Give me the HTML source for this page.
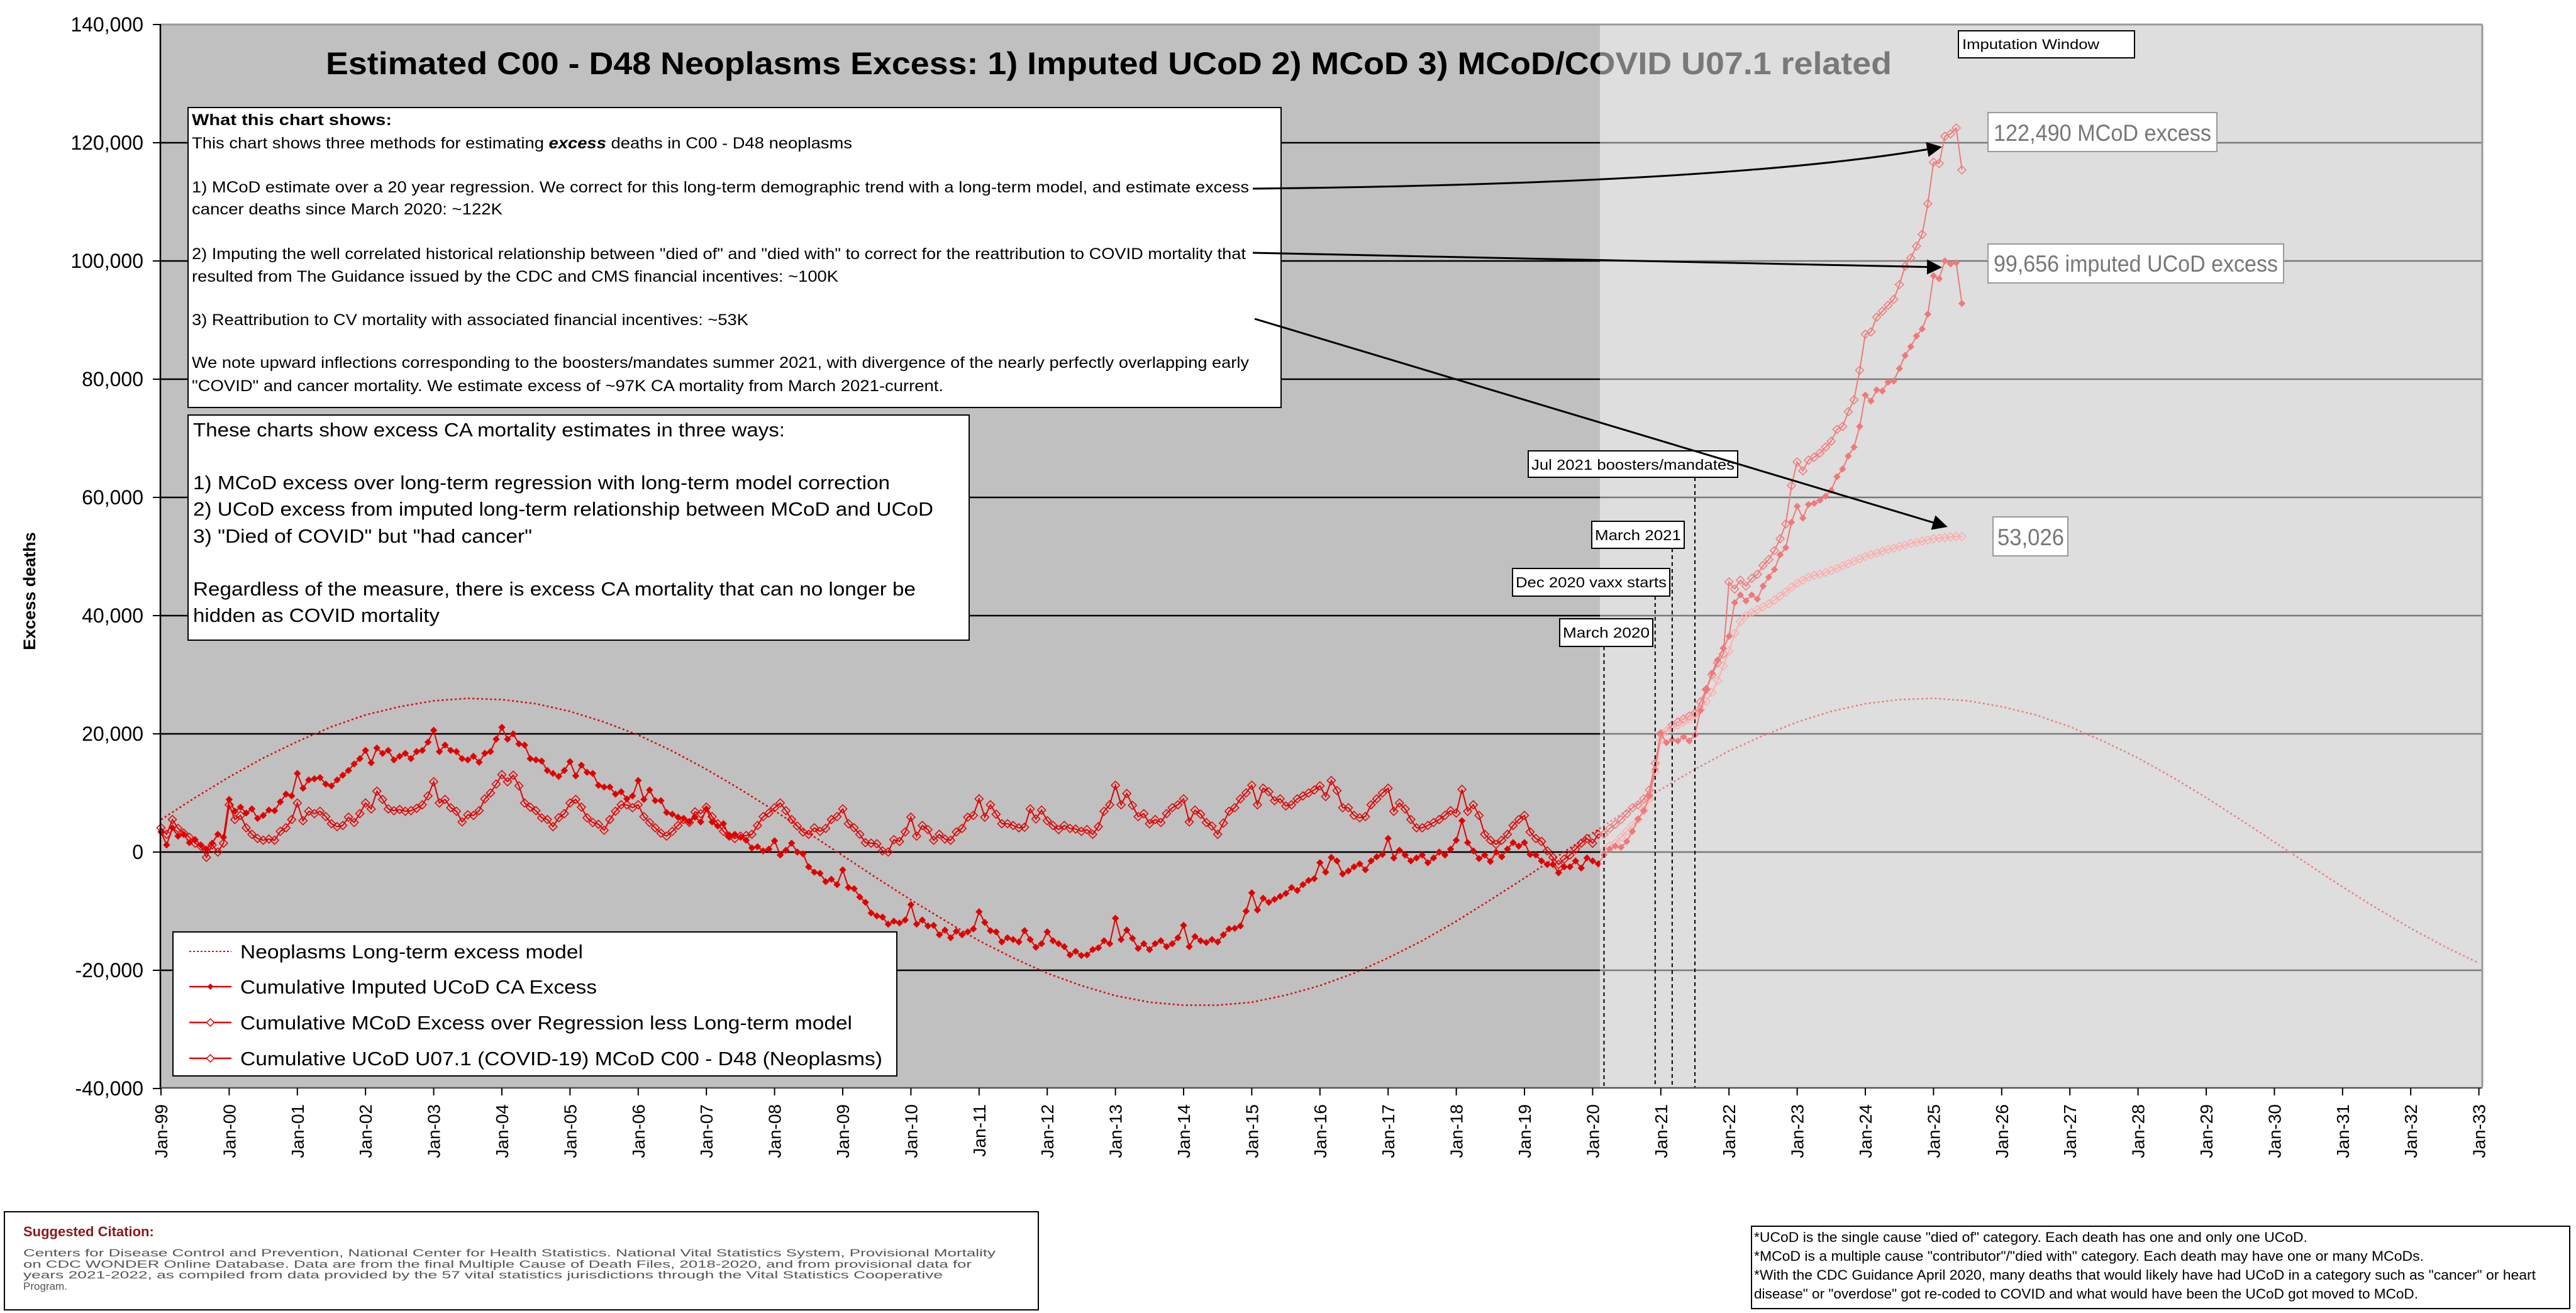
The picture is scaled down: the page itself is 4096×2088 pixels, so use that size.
<!DOCTYPE html>
<html>
<head>
<meta charset="utf-8">
<style>
html,body{margin:0;padding:0;background:#fff;}
svg{display:block;}
text{font-family:"Liberation Sans",Arial,sans-serif;}
</style>
</head>
<body>
<svg id="chart" width="4096" height="2088" viewBox="0 0 4096 2088" xmlns="http://www.w3.org/2000/svg">
  <rect x="0" y="0" width="4096" height="2088" fill="#ffffff"/>
  <rect x="256" y="39" width="3691" height="1690" fill="#c0c0c0"/>
  <g id="grid"></g>
  <g id="marks"></g>
  <text x="1763" y="118" text-anchor="middle" font-size="50" font-weight="bold" textLength="2490" lengthAdjust="spacingAndGlyphs" fill="#000">Estimated C00 - D48 Neoplasms Excess: 1) Imputed UCoD 2) MCoD 3) MCoD/COVID U07.1 related</text>
  <rect x="2544" y="39" width="1403" height="1690" fill="#ffffff" fill-opacity="0.476"/>
  <line x1="256" y1="39" x2="3947" y2="39" stroke="#999" stroke-width="3"/>
  <line x1="3947" y1="39" x2="3947" y2="1729" stroke="#999" stroke-width="3"/>
  <g id="axes"></g>
  <g id="events"></g>

  <!-- annotation boxes -->
  <g>
    <rect x="299" y="171" width="1738" height="477" fill="#fff" stroke="#000" stroke-width="2"/>
    <text x="305" y="199" font-size="25" font-weight="bold" textLength="318" lengthAdjust="spacingAndGlyphs">What this chart shows:</text>
    <text x="305" y="236" font-size="25" textLength="1050" lengthAdjust="spacingAndGlyphs">This chart shows three methods for estimating <tspan font-weight="bold" font-style="italic">excess</tspan>  deaths in C00 - D48 neoplasms</text>
    <text x="305" y="306" font-size="25" textLength="1681" lengthAdjust="spacingAndGlyphs">1) MCoD estimate over a 20 year regression. We correct for this long-term demographic trend with a long-term model, and estimate excess</text>
    <text x="305" y="341" font-size="25" textLength="494" lengthAdjust="spacingAndGlyphs">cancer deaths since March 2020: ~122K</text>
    <text x="305" y="412" font-size="25" textLength="1676" lengthAdjust="spacingAndGlyphs">2) Imputing the well correlated historical relationship between "died of" and "died with" to correct for the reattribution to COVID mortality that</text>
    <text x="305" y="448" font-size="25" textLength="1028" lengthAdjust="spacingAndGlyphs">resulted from The Guidance issued by the CDC and CMS financial incentives: ~100K</text>
    <text x="305" y="517" font-size="25" textLength="885" lengthAdjust="spacingAndGlyphs">3) Reattribution to CV mortality with associated financial incentives: ~53K</text>
    <text x="305" y="585" font-size="25" textLength="1681" lengthAdjust="spacingAndGlyphs">We note upward inflections corresponding to the boosters/mandates summer 2021, with divergence of the nearly perfectly overlapping early</text>
    <text x="305" y="622" font-size="25" textLength="1195" lengthAdjust="spacingAndGlyphs">"COVID" and cancer mortality. We estimate excess of ~97K CA mortality from March 2021-current.</text>
  </g>
  <g>
    <rect x="299" y="660" width="1242" height="358" fill="#fff" stroke="#000" stroke-width="2"/>
    <text x="307" y="694" font-size="31" textLength="941" lengthAdjust="spacingAndGlyphs">These charts show excess CA mortality estimates in three ways:</text>
    <text x="307" y="778" font-size="31" textLength="1108" lengthAdjust="spacingAndGlyphs">1) MCoD excess over long-term regression with long-term model correction</text>
    <text x="307" y="820" font-size="31" textLength="1177" lengthAdjust="spacingAndGlyphs">2) UCoD excess from imputed long-term relationship between MCoD and UCoD</text>
    <text x="307" y="863" font-size="31" textLength="539" lengthAdjust="spacingAndGlyphs">3) "Died of COVID" but "had cancer"</text>
    <text x="307" y="947" font-size="31" textLength="1149" lengthAdjust="spacingAndGlyphs">Regardless of the measure, there is excess CA mortality that can no longer be</text>
    <text x="307" y="989" font-size="31" textLength="392" lengthAdjust="spacingAndGlyphs">hidden as COVID mortality</text>
  </g>

  <!-- arrows -->
  <defs>
    <marker id="arrowhead" markerWidth="8" markerHeight="8" refX="7" refY="4" orient="auto" markerUnits="strokeWidth">
      <path d="M0,0 L8,4 L0,8 z" fill="#000"/>
    </marker>
  </defs>
  <path d="M1992 300 Q2760 292 3085 234" fill="none" stroke="#000" stroke-width="3" marker-end="url(#arrowhead)"/>
  <path d="M1992 402 L3085 425" fill="none" stroke="#000" stroke-width="3" marker-end="url(#arrowhead)"/>
  <path d="M1995 507 L3094 837" fill="none" stroke="#000" stroke-width="3" marker-end="url(#arrowhead)"/>

  <g>
    <rect x="3161" y="179" width="364" height="62" fill="#fff" stroke="#999" stroke-width="2"/>
    <text x="3170" y="224" font-size="37" fill="#777" textLength="346" lengthAdjust="spacingAndGlyphs">122,490 MCoD excess</text>
  </g>
  <g>
    <rect x="3161" y="388" width="470" height="62" fill="#fff" stroke="#999" stroke-width="2"/>
    <text x="3170" y="432" font-size="37" fill="#777" textLength="452" lengthAdjust="spacingAndGlyphs">99,656 imputed UCoD excess</text>
  </g>
  <g>
    <rect x="3169" y="822" width="119" height="62" fill="#fff" stroke="#999" stroke-width="2"/>
    <text x="3176" y="867" font-size="37" fill="#777" textLength="106" lengthAdjust="spacingAndGlyphs">53,026</text>
  </g>
  <g>
    <rect x="3114" y="49" width="280" height="43" fill="#fff" stroke="#000" stroke-width="2"/>
    <text x="3120" y="78" font-size="22" textLength="218" lengthAdjust="spacingAndGlyphs">Imputation Window</text>
  </g>

  <!-- legend -->
  <g>
    <rect x="275" y="1482" width="1151" height="229" fill="#fff" stroke="#000" stroke-width="2"/>
    <g>
      <line x1="301" y1="1513" x2="368" y2="1513" stroke="#e00000" stroke-width="2" stroke-dasharray="3,3"/>
      <text x="382" y="1524" font-size="31" textLength="545" lengthAdjust="spacingAndGlyphs">Neoplasms Long-term excess model</text>
    </g>
    <g>
      <line x1="301" y1="1569" x2="368" y2="1569" stroke="#e00000" stroke-width="2.5"/>
      <path d="M334.5 1564 L339.5 1569 L334.5 1574 L329.5 1569 Z" fill="#e00000"/>
      <text x="382" y="1580" font-size="31" textLength="567" lengthAdjust="spacingAndGlyphs">Cumulative Imputed UCoD CA Excess</text>
    </g>
    <g>
      <line x1="301" y1="1626" x2="368" y2="1626" stroke="#e00000" stroke-width="2.5"/>
      <path d="M334.5 1620 L340.5 1626 L334.5 1632 L328.5 1626 Z" fill="#fff" stroke="#e00000" stroke-width="1.5"/>
      <text x="382" y="1637" font-size="31" textLength="973" lengthAdjust="spacingAndGlyphs">Cumulative MCoD Excess over Regression less Long-term model</text>
    </g>
    <g>
      <line x1="301" y1="1683" x2="368" y2="1683" stroke="#e00000" stroke-width="2.5"/>
      <path d="M334.5 1677 L340.5 1683 L334.5 1689 L328.5 1683 Z" fill="#fff" stroke="#e00000" stroke-width="1.5"/>
      <text x="382" y="1694" font-size="31" textLength="1021" lengthAdjust="spacingAndGlyphs">Cumulative UCoD U07.1 (COVID-19)  MCoD C00 - D48 (Neoplasms)</text>
    </g>
  </g>

  <text transform="translate(56,940) rotate(-90)" text-anchor="middle" font-size="27" font-weight="bold" font-family="DejaVu Sans, sans-serif">Excess deaths</text>

  <!-- citation -->
  <g>
    <rect x="7" y="1927" width="1644" height="156" fill="#fff" stroke="#000" stroke-width="2"/>
    <text x="37" y="1966" font-size="22" font-weight="bold" fill="#8b1a1a" font-family="DejaVu Sans, sans-serif">Suggested Citation:</text>
    <text x="37" y="1998" font-size="17" fill="#555" font-family="DejaVu Sans, sans-serif" textLength="1546" lengthAdjust="spacingAndGlyphs">Centers for Disease Control and Prevention, National Center for Health Statistics. National Vital Statistics System, Provisional Mortality</text>
    <text x="37" y="2016" font-size="17" fill="#555" font-family="DejaVu Sans, sans-serif" textLength="1508" lengthAdjust="spacingAndGlyphs">on CDC WONDER Online Database. Data are from the final Multiple Cause of Death Files, 2018-2020, and from provisional data for</text>
    <text x="37" y="2033" font-size="17" fill="#555" font-family="DejaVu Sans, sans-serif" textLength="1462" lengthAdjust="spacingAndGlyphs">years 2021-2022, as compiled from data provided by the 57 vital statistics jurisdictions through the Vital Statistics Cooperative</text>
    <text x="37" y="2051" font-size="17" fill="#555" font-family="DejaVu Sans, sans-serif">Program.</text>
  </g>
  <!-- footnotes -->
  <g>
    <rect x="2785" y="1950" width="1301" height="131" fill="#fff" stroke="#000" stroke-width="2"/>
    <text x="2789" y="1975" font-size="22" textLength="880" lengthAdjust="spacingAndGlyphs">*UCoD is the single cause "died of" category. Each death has one and only one UCoD.</text>
    <text x="2789" y="2005" font-size="22" textLength="1065" lengthAdjust="spacingAndGlyphs">*MCoD is a multiple cause "contributor"/"died with" category. Each death may have one or many MCoDs.</text>
    <text x="2789" y="2035" font-size="22" textLength="1243" lengthAdjust="spacingAndGlyphs">*With the CDC Guidance April 2020, many deaths that would likely have had UCoD in a category such as "cancer" or heart</text>
    <text x="2789" y="2065" font-size="22" textLength="1056" lengthAdjust="spacingAndGlyphs">disease" or "overdose" got re-coded to COVID and what would have been the UCoD got moved to MCoD.</text>
  </g>
</svg>

<script>
// ---- data (thousands of deaths) ----
const yTickValues = [140, 120, 100, 80, 60, 40, 20, 0, -20, -40];
const yTickLabels = ["140,000","120,000","100,000","80,000","60,000","40,000","20,000","0","-20,000","-40,000"];
const xTickLabels = ["Jan-99","Jan-00","Jan-01","Jan-02","Jan-03","Jan-04","Jan-05","Jan-06","Jan-07","Jan-08","Jan-09","Jan-10","Jan-11","Jan-12","Jan-13","Jan-14","Jan-15","Jan-16","Jan-17","Jan-18","Jan-19","Jan-20","Jan-21","Jan-22","Jan-23","Jan-24","Jan-25","Jan-26","Jan-27","Jan-28","Jan-29","Jan-30","Jan-31","Jan-32","Jan-33"];
// monthly from Jan-1999
const imputedUcod = [
3.4,1.2,4.1,2.7,3.0,1.6,2.1,1.2,0.5,1.5,3.0,2.5,
8.9,6.9,7.6,6.6,7.3,5.7,6.2,7.1,7.0,8.5,9.8,9.5,
13.3,10.8,12.2,12.4,12.6,11.5,11.2,12.2,13.0,13.8,14.9,15.8,
17.2,15.1,17.6,16.7,17.2,15.6,16.2,16.7,15.8,17.0,17.2,18.6,
20.6,17.0,18.1,17.2,17.0,15.8,15.6,16.2,15.2,16.7,17.0,19.1,
21.1,19.1,20.0,18.3,18.1,15.8,15.6,15.4,13.8,13.3,12.8,13.8,
15.3,12.9,14.7,13.5,13.3,11.3,11.0,11.0,9.8,10.2,9.0,9.5,
12.1,8.9,10.5,8.7,8.7,6.7,6.4,5.9,5.7,5.1,5.9,5.1,
7.3,5.1,4.4,4.8,2.7,3.0,2.5,2.0,0.7,0.9,0.2,0.5,
1.9,-0.5,0.3,1.5,0.0,-0.3,-2.5,-3.4,-3.6,-5.0,-4.6,-5.5,
-3.0,-6.0,-6.2,-7.6,-8.5,-10.3,-10.8,-11.0,-12.2,-11.7,-12.0,-11.5,
-8.9,-12.2,-11.5,-12.5,-12.4,-14.0,-13.2,-14.5,-13.4,-14.0,-13.5,-13.0,
-10.1,-11.9,-13.3,-13.5,-15.2,-14.5,-14.8,-15.2,-13.3,-14.8,-16.1,-15.5,
-13.5,-15.0,-15.5,-16.0,-17.4,-16.8,-17.5,-17.4,-16.5,-16.2,-15.0,-15.5,
-11.2,-14.8,-13.2,-14.6,-16.3,-15.5,-16.5,-15.5,-15.0,-16.0,-15.5,-14.5,
-12.4,-16.0,-14.3,-15.0,-15.3,-14.8,-15.2,-14.0,-13.0,-12.9,-12.5,-10.0,
-6.9,-9.8,-7.8,-8.5,-8.0,-7.5,-7.0,-6.0,-6.5,-5.5,-4.8,-4.5,
-1.8,-3.4,-0.9,-1.5,-3.7,-3.2,-2.5,-2.0,-3.0,-1.5,-0.8,-0.4,
2.3,-1.0,0.3,-0.5,-1.5,-1.0,-0.5,-1.8,-1.0,0.0,-0.5,0.5,
2.0,5.3,1.6,0.2,-1.1,-0.5,-1.6,0.0,-0.8,0.5,1.6,1.0,
1.6,-0.4,-0.5,-1.5,-2.1,-2.1,-3.5,-2.5,-2.5,-1.5,-2.7,-1.0,
-1.5,-2.0,-0.5,0.5,1.0,0.8,1.8,3.5,5.6,7.0,9.5,14.0,
20.1,18.5,19.0,18.8,19.5,18.8,19.8,24.0,27.5,30.3,32.5,34.5,
36.5,42.2,43.5,42.5,43.5,42.8,45.0,46.5,47.8,50.3,51.5,55.8,
58.5,56.5,58.8,59.0,59.5,60.2,61.2,63.5,64.8,67.0,68.5,72.0,
77.3,76.3,78.2,78.0,79.5,79.7,81.8,84.0,85.5,87.3,88.5,91.0,
97.5,97.0,100.0,99.5,99.7,92.8];
const mcodExcess = [
4.1,3.0,5.5,4.0,3.2,2.5,1.5,1.0,-0.9,1.2,0.0,1.5,
8.0,5.5,6.2,4.1,3.0,2.3,2.0,2.2,2.0,3.5,4.1,5.5,
8.3,5.3,6.9,6.5,6.9,6.0,4.8,4.3,4.5,5.9,5.0,6.5,
8.3,7.3,10.3,8.9,7.3,7.0,7.2,6.9,7.0,7.4,8.0,9.5,
11.9,8.3,8.9,7.5,6.9,5.1,6.3,6.2,7.0,9.0,10.0,11.5,
13.1,11.9,13.0,11.2,8.3,7.6,7.0,5.8,5.5,4.3,5.8,6.5,
8.3,8.9,7.6,5.8,5.0,4.7,3.7,5.5,6.9,8.0,8.0,7.5,
8.0,6.0,5.0,4.1,3.2,2.7,3.5,4.5,5.5,5.0,6.8,6.5,
7.6,6.0,4.8,3.5,2.7,2.3,2.7,2.8,3.0,4.5,6.0,6.6,
7.5,8.3,7.0,5.5,4.4,3.4,3.0,4.1,3.5,4.0,5.5,6.0,
7.3,4.8,4.1,3.0,1.6,1.5,1.4,0.2,0.0,2.1,1.8,3.4,
5.9,2.7,4.5,3.8,2.0,3.0,2.2,2.0,3.4,4.0,5.9,6.2,
9.0,5.9,8.0,6.4,4.8,4.8,4.5,4.1,4.2,7.3,5.6,7.1,
5.3,4.5,3.8,4.5,4.0,3.9,3.5,3.8,3.0,4.3,6.9,8.0,
11.3,8.0,9.9,7.9,6.0,6.5,4.8,5.5,5.0,6.5,7.5,8.0,
9.0,5.1,7.1,6.4,5.0,4.4,3.0,4.9,6.9,7.5,9.0,10.0,
11.3,8.0,10.8,10.2,8.7,9.0,7.8,8.0,9.0,9.5,10.0,10.5,
11.2,9.4,12.1,10.4,7.5,7.5,6.2,5.8,6.0,8.0,9.0,10.0,
10.8,6.9,8.3,7.3,5.5,4.1,4.1,4.5,5.0,5.5,6.2,7.0,
6.6,10.6,6.9,8.0,6.2,3.0,2.0,1.3,2.0,3.0,4.5,5.5,
6.2,3.4,2.3,1.8,0.2,-0.9,-2.1,-1.2,-0.5,0.5,1.5,2.3,
1.5,3.0,3.0,4.0,4.7,5.5,6.5,7.5,8.0,9.0,10.5,15.0,
20.0,20.5,21.5,22.0,22.5,23.0,23.5,25.4,27.5,30.0,32.0,33.5,
45.7,44.5,46.0,45.0,46.3,47.0,48.5,49.5,51.0,53.0,55.5,62.0,
66.0,64.5,66.3,66.8,67.5,68.5,69.5,71.5,72.0,74.5,76.5,81.5,
87.6,88.0,90.5,91.5,92.5,93.5,96.0,99.1,100.5,102.5,104.5,109.7,
116.7,116.5,121.1,121.5,122.5,115.4];
// monthly from Mar-2020
const covidStartMonth = 254;
const covidU071 = [
0.3,1.0,1.5,2.5,3.5,4.5,5.5,7.0,9.0,13.5,
19.0,20.5,21.0,21.5,22.0,22.5,23.2,24.1,25.5,27.0,29.0,31.5,
34.0,37.0,39.0,40.0,40.5,41.0,41.5,42.0,42.6,43.3,44.0,44.8,
45.5,46.0,46.5,46.8,47.0,47.3,47.6,48.0,48.4,48.8,49.2,49.6,
50.0,50.3,50.6,50.9,51.2,51.4,51.7,51.9,52.2,52.4,52.6,52.8,
53.0,53.1,53.2,53.3,53.4,53.4];
// half-yearly from Jan-1999 to Jan-2033
const longTermModel = [5.5,9.2,12.7,15.9,18.7,21.2,23.2,24.6,25.6,26.0,25.8,25.1,23.8,22.0,19.8,17.1,14.0,10.6,7.0,3.2,-0.6,-4.4,-8.1,-11.6,-15.0,-17.9,-20.5,-22.6,-24.3,-25.4,-25.9,-25.9,-25.4,-24.2,-22.6,-20.5,-17.9,-15.0,-11.7,-8.1,-4.4,-0.6,3.2,7.0,10.6,14.0,17.1,19.7,22.0,23.8,25.1,25.8,26.0,25.6,24.6,23.2,21.2,18.7,15.9,12.7,9.2,5.5,1.7,-2.1,-5.9,-9.5,-12.9,-16.0,-18.8];
const eventLabels = ["March 2020","Dec 2020 vaxx starts","March 2021","Jul 2021 boosters/mandates"];
const eventMonths = [254, 263, 266, 270];

// ---- axis functions ----
const X0 = 256, PX_PER_YEAR = 108.4, Y0 = 1355, PX_PER_K = 9.4;
function xMonth(m){ return X0 + m / 12 * PX_PER_YEAR; }
function yVal(v){ return Y0 - v * PX_PER_K; }

const NS = "http://www.w3.org/2000/svg";
function mk(tag, attrs, parent){
  const e = document.createElementNS(NS, tag);
  for (const k in attrs) e.setAttribute(k, attrs[k]);
  parent.appendChild(e);
  return e;
}
const grid = document.getElementById('grid');
const marks = document.getElementById('marks');
const axes = document.getElementById('axes');
const events = document.getElementById('events');

// gridlines + y ticks
yTickValues.forEach((v, i) => {
  const y = yVal(v);
  if (v !== 140 && v !== -40) {
    const g = mk('line', {x1: 256, y1: y, x2: 3947, y2: y, stroke: '#000', 'stroke-width': 2.5}, grid);
    
    
  }
  const t = mk('line', {x1: 243, y1: y, x2: 256, y2: y, stroke: '#000', 'stroke-width': 2}, axes);
  
  
  const lbl = mk('text', {x: 228, y: y + 11, 'text-anchor': 'end', 'font-size': 32}, axes);
  lbl.textContent = yTickLabels[i];
  
  
});
// axis lines
const yAxis = mk('line', {x1: 255, y1: 39, x2: 255, y2: 1730, stroke: '#000', 'stroke-width': 2.5}, axes);


const xAxis = mk('line', {x1: 255, y1: 1730, x2: 3947, y2: 1730, stroke: '#555', 'stroke-width': 2.5}, axes);


// x ticks
xTickLabels.forEach((s, i) => {
  const x = xMonth(i * 12);
  const t = mk('line', {x1: x, y1: 1730, x2: x, y2: 1742, stroke: '#000', 'stroke-width': 2}, axes);
  
  
  const lbl = mk('text', {transform: `translate(${x + 10},1756) rotate(-90)`, 'text-anchor': 'end', 'font-size': 28, 'font-family': 'DejaVu Sans, sans-serif'}, axes);
  lbl.textContent = s;
  
  
});

// model dotted line
let d = '';
longTermModel.forEach((v, i) => { d += (i ? 'L' : 'M') + xMonth(i * 6).toFixed(1) + ' ' + yVal(v).toFixed(1); });
const modelPath = mk('path', {d: d, fill: 'none', stroke: '#e00000', 'stroke-width': 2.5, 'stroke-dasharray': '3,4'}, marks);



function drawSeries(values, startMonth, name, filled, color){
  let p = '';
  values.forEach((v, i) => { p += (i ? 'L' : 'M') + xMonth(startMonth + i).toFixed(1) + ' ' + yVal(v).toFixed(1); });
  const line = mk('path', {d: p, fill: 'none', stroke: color, 'stroke-width': 2}, marks);
  
  
  values.forEach((v, i) => {
    const x = xMonth(startMonth + i), y = yVal(v), r = filled ? 5 : 6.5;
    const pt = mk('path', {d: `M${x} ${y - r}L${x + r} ${y}L${x} ${y + r}L${x - r} ${y}Z`, fill: filled ? color : 'none', stroke: color, 'stroke-width': filled ? 1 : 1.5}, marks);
    
    
  });
}
drawSeries(mcodExcess, 0, 'mcod-excess', false, '#e00000');
drawSeries(covidU071, covidStartMonth, 'covid-u071', false, '#ff6060');
drawSeries(imputedUcod, 0, 'imputed-ucod', true, '#e00000');

// event dashed lines + labels
const evBoxes = [[2480,984,148,44],[2405,904,250,44],[2531,829,147,43],[2430,717,333,42]];
eventMonths.forEach((m, i) => {
  const x = xMonth(m);
  const b = evBoxes[i];
  const ln = mk('line', {x1: x, y1: b[1] + b[3], x2: x, y2: 1729, stroke: '#000', 'stroke-width': 2, 'stroke-dasharray': '6,5'}, events);
  
  
  const r = mk('rect', {x: b[0], y: b[1], width: b[2], height: b[3], fill: '#fff', stroke: '#000', 'stroke-width': 2}, events);
  
  
  const t = mk('text', {x: b[0] + 5, y: b[1] + 30, 'font-size': 23, textLength: b[2] - 10, lengthAdjust: 'spacingAndGlyphs'}, events);
  t.textContent = eventLabels[i];
  
  
});
</script>
</body>
</html>
